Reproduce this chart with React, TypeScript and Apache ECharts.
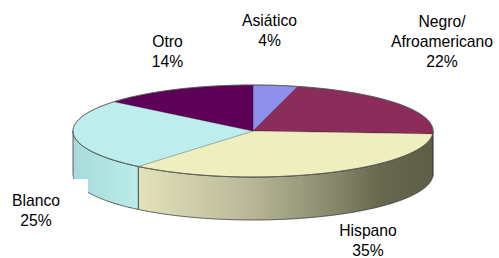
import React, { useEffect, useRef } from 'react';
import * as echarts from 'echarts';

// ---- data ----
const categories = ['Asiático', 'Negro/\nAfroamericano', 'Hispano', 'Blanco', 'Otro'];
const values = [4, 22, 35, 25, 14];

// ---- styles / layout ----
const topColors = ['#8f8fec', '#8b2c5a', '#eeeebf', '#bdeded', '#5c0058'];
const wallStops: number[][] = [];
const wallGradients: { offset: number; color: string }[][] = [
  [{ offset: 0, color: '#6a6ab0' }, { offset: 1, color: '#6a6ab0' }],
  [{ offset: 0, color: '#5e1d3d' }, { offset: 1, color: '#4f1733' }],
  [
    { offset: 0, color: '#e2e2ba' },
    { offset: 0.38, color: '#b8b898' },
    { offset: 0.65, color: '#8a8a6e' },
    { offset: 0.82, color: '#68684f' },
    { offset: 1, color: '#5e5e48' },
  ],
  [{ offset: 0, color: '#a8dada' }, { offset: 1, color: '#bbecec' }],
  [{ offset: 0, color: '#3f003c' }, { offset: 1, color: '#3f003c' }],
];
const labelPos: number[][] = [
  [269.5, 30.5],
  [442, 41],
  [368, 240.5],
  [36, 210.5],
  [167.5, 51],
];
const CX = 253;
const CY = 131;
const RX = 180;
const RY = 46;
const DEPTH = 43;

const total = values.reduce((a, b) => a + b, 0);

function pt(a: number, dy = 0): number[] {
  return [CX + RX * Math.sin(a), CY - RY * Math.cos(a) + dy];
}
function arc(s: number, e: number, dy = 0): number[][] {
  const n = Math.max(2, Math.ceil((e - s) / (Math.PI / 360)));
  const out: number[][] = [];
  for (let k = 0; k <= n; k++) out.push(pt(s + ((e - s) * k) / n, dy));
  return out;
}

const renderItem = (params: any, api: any) => {
  const i = params.dataIndex;
  const v = api.value(0);
  let start = 0;
  for (let k = 0; k < i; k++) start += values[k];
  const a0 = (start / total) * 2 * Math.PI;
  const a1 = ((start + v) / total) * 2 * Math.PI;
  const children: any[] = [];
  const ws = Math.max(a0, Math.PI / 2);
  const we = Math.min(a1, (3 * Math.PI) / 2);
  if (we > ws) {
    const top = arc(ws, we);
    const bot = arc(ws, we, DEPTH).reverse();
    children.push({
      type: 'polygon',
      shape: { points: top.concat(bot) },
      style: {
        fill: { type: 'linear', x: 0, y: 0, x2: 1, y2: 0, colorStops: wallGradients[i] },
        stroke: '#3a3a3a',
        lineWidth: 0.8,
      },
      z2: 1,
    });
  }
  const edge = arc(a0, a1);
  children.push({
    type: 'polygon',
    shape: { points: [[CX, CY], ...edge] },
    style: { fill: topColors[i], stroke: 'rgba(0,0,0,0.35)', lineWidth: 0.6 },
    z2: 2,
  });
  children.push({
    type: 'polyline',
    shape: { points: edge },
    style: { stroke: '#5a5a5a', lineWidth: 1, fill: null },
    z2: 3,
  });
  children.push({
    type: 'text',
    x: labelPos[i][0],
    y: labelPos[i][1],
    style: {
      text: `${categories[i]}\n${v}%`,
      fill: '#000',
      fontFamily: 'Liberation Sans, Arial, sans-serif',
      fontSize: 15.7,
      lineHeight: 20,
      align: 'center',
      verticalAlign: 'middle',
    },
    z2: 10,
  });
  return { type: 'group', children };
};

export default function App() {
  const ref = useRef<HTMLDivElement>(null);
  useEffect(() => {
    if (!ref.current) return;
    const chart = echarts.init(ref.current, undefined, { renderer: 'svg' });
    chart.setOption({
      animation: false,
      backgroundColor: '#ffffff',
      series: [
        {
          type: 'custom',
          coordinateSystem: 'none',
          renderItem,
          data: values,
          silent: true,
        },
      ],
      graphic: [
        {
          type: 'rect',
          left: 73,
          top: 179,
          shape: { width: 15, height: 22 },
          style: { fill: '#ffffff' },
          z: 50,
        },
      ],
    });
    return () => chart.dispose();
  }, []);
  return (
    <div
      ref={ref}
      style={{ position: 'fixed', left: 0, top: 0, width: 499, height: 258 }}
    />
  );
}
